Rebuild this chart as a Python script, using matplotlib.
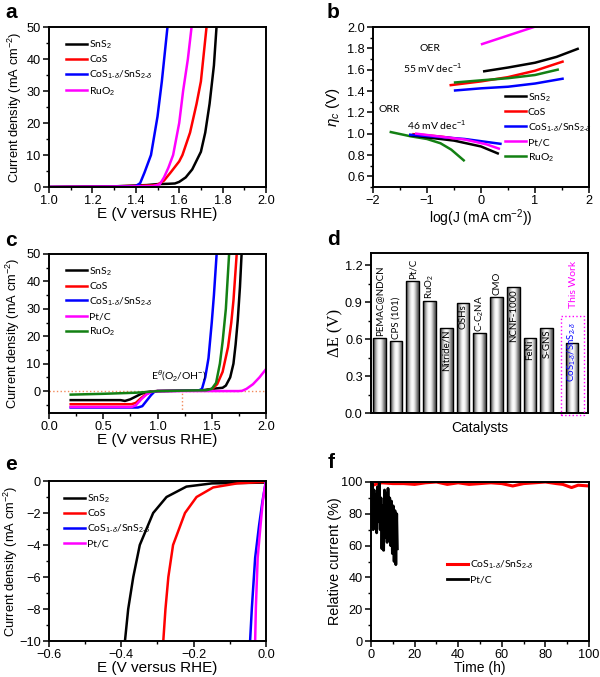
'''
    Figura de seis paneles: curvas LSV (OER/ORR/HER), Tafel, comparación de
    ΔE y estabilidad
'''
import numpy as np
import matplotlib
matplotlib.use('Agg')
import matplotlib.pyplot as plt
from matplotlib.ticker import MultipleLocator

plt.rcParams['font.family'] = ['Liberation Sans', 'DejaVu Sans']
plt.rcParams['mathtext.fontset'] = 'custom'
plt.rcParams['mathtext.rm'] = 'Liberation Sans'
plt.rcParams['mathtext.it'] = 'Liberation Sans:italic'
plt.rcParams['mathtext.bf'] = 'Liberation Sans:bold'

# Colores de cada catalizador
NEGRO = 'black'
ROJO = '#ff0000'
AZUL = '#0000ff'
MAGENTA = '#ff00ff'
VERDE = '#138013'

# Etiquetas de la leyenda
lbl_sns2 = 'SnS$_2$'
lbl_cos = 'CoS'
lbl_hib = 'CoS$_{1\u2010δ}$/SnS$_{2\u2010δ}$'
lbl_ruo2 = 'RuO$_2$'
lbl_ptc = 'Pt/C'

# ---- Panel a: OER (E en V, j en mA cm-2)
a_sns2_x = [1.0, 1.30, 1.45, 1.50, 1.55, 1.58, 1.60, 1.63, 1.66, 1.70, 1.72, 1.74, 1.76, 1.772]
a_sns2_y = [0.0, 0.2, 0.6, 0.9, 1.0, 1.1, 1.6, 3.0, 5.5, 11.0, 17.0, 26.0, 38.0, 50.0]
a_cos_x = [1.0, 1.30, 1.48, 1.50, 1.53, 1.56, 1.60, 1.615, 1.65, 1.68, 1.70, 1.726]
a_cos_y = [0.0, 0.2, 0.5, 0.7, 2.0, 4.5, 8.0, 10.0, 17.0, 26.0, 33.0, 50.0]
a_hib_x = [1.0, 1.30, 1.40, 1.42, 1.44, 1.47, 1.50, 1.52, 1.546]
a_hib_y = [0.0, 0.1, 0.3, 1.2, 4.5, 10.0, 22.0, 33.0, 50.0]
a_ruo2_x = [1.0, 1.30, 1.48, 1.51, 1.53, 1.55, 1.572, 1.60, 1.618, 1.64, 1.657]
a_ruo2_y = [0.0, 0.1, 0.3, 0.8, 3.0, 6.0, 10.0, 20.0, 30.0, 40.0, 50.0]

# ---- Panel b: Tafel (log J, eta)
b_oer_sns2_x = [0.06, 0.5, 1.0, 1.4, 1.79]
b_oer_sns2_y = [1.585, 1.62, 1.665, 1.72, 1.795]
b_oer_cos_x = [-0.56, 0.0, 0.5, 1.0, 1.51]
b_oer_cos_y = [1.455, 1.49, 1.53, 1.59, 1.675]
b_oer_hib_x = [-0.48, 0.0, 0.5, 1.0, 1.51]
b_oer_hib_y = [1.405, 1.425, 1.44, 1.47, 1.515]
b_oer_ptc_x = [0.02, 0.5, 0.98, 1.1]
b_oer_ptc_y = [1.84, 1.92, 2.0, 2.03]
b_oer_ruo2_x = [-0.48, 0.0, 0.5, 1.0, 1.42]
b_oer_ruo2_y = [1.48, 1.50, 1.52, 1.55, 1.60]
b_orr_sns2_x = [-1.31, -1.0, -0.5, 0.0, 0.31]
b_orr_sns2_y = [0.985, 0.965, 0.935, 0.88, 0.815]
b_orr_cos_x = [-1.25, -1.0, -0.7, -0.5]
b_orr_cos_y = [0.995, 0.985, 0.97, 0.955]
b_orr_hib_x = [-1.31, -0.8, -0.3, 0.36]
b_orr_hib_y = [0.99, 0.97, 0.95, 0.905]
b_orr_ptc_x = [-1.2, -0.8, -0.3, 0.1, 0.33]
b_orr_ptc_y = [1.0, 0.975, 0.945, 0.9, 0.86]
b_orr_ruo2_x = [-1.67, -1.3, -1.0, -0.75, -0.55, -0.32]
b_orr_ruo2_y = [1.015, 0.975, 0.95, 0.91, 0.85, 0.75]

# ---- Panel c: ORR + OER en todo el rango
c_sns2_x = [0.2, 0.66, 0.70, 0.75, 0.80, 0.85, 0.90, 0.95, 1.0, 1.4, 1.5, 1.55, 1.60, 1.63, 1.67, 1.70, 1.72, 1.74, 1.76, 1.775]
c_sns2_y = [-3.3, -3.3, -3.6, -3.0, -2.0, -1.0, -0.4, -0.1, 0.0, 0.2, 0.8, 1.0, 1.2, 2.0, 5.0, 10.0, 17.0, 26.0, 38.0, 50.0]
c_cos_x = [0.2, 0.76, 0.80, 0.85, 0.90, 0.95, 1.0, 1.45, 1.50, 1.55, 1.60, 1.65, 1.68, 1.70, 1.73]
c_cos_y = [-4.8, -4.8, -4.3, -2.5, -1.0, -0.2, 0.0, 0.3, 0.6, 2.5, 7.0, 16.0, 25.0, 33.0, 50.0]
c_hib_x = [0.2, 0.82, 0.86, 0.90, 0.94, 0.97, 1.0, 1.38, 1.41, 1.44, 1.47, 1.50, 1.52, 1.545]
c_hib_y = [-6.0, -6.0, -5.5, -3.5, -1.5, -0.3, 0.0, 0.2, 0.8, 5.0, 12.0, 25.0, 35.0, 50.0]
c_ptc_x = [0.2, 0.76, 0.80, 0.85, 0.90, 0.95, 1.0, 1.75, 1.78, 1.82, 1.88, 1.94, 2.0]
c_ptc_y = [-5.8, -5.8, -5.2, -3.0, -1.2, -0.2, 0.0, 0.0, 0.1, 0.8, 2.5, 5.0, 8.0]
c_ruo2_x = [0.2, 0.5, 0.8, 0.95, 1.0, 1.45, 1.50, 1.54, 1.575, 1.60, 1.63, 1.66]
c_ruo2_y = [-1.3, -1.0, -0.6, -0.2, 0.0, 0.3, 0.8, 3.0, 10.0, 18.0, 30.0, 50.0]
c_e_teorico = 1.23

# ---- Panel d: ΔE de catalizadores
d_catalizadores = ['PEMAC@NDCN', 'CPS (101)', 'Pt/C', 'RuO$_2$', 'Nitride/N', 'OSHs',
                   'C-C$_2$NA', 'CMO', 'NCNF-1000', 'FeNi', 'S-GNS']
d_delta_e = [0.611, 0.589, 1.07, 0.912, 0.692, 0.89, 0.652, 0.942, 1.021, 0.611, 0.692]
d_este_trabajo = 0.565

# ---- Panel e: HER
e_sns2_x = [-0.39, -0.381, -0.367, -0.349, -0.312, -0.275, -0.22, -0.15, 0.0]
e_sns2_y = [-10.0, -8.0, -6.0, -4.0, -2.0, -1.0, -0.35, -0.15, -0.1]
e_cos_x = [-0.284, -0.278, -0.27, -0.257, -0.224, -0.192, -0.146, -0.08, 0.0]
e_cos_y = [-10.0, -8.0, -6.0, -4.0, -2.0, -1.0, -0.4, -0.15, -0.05]
e_hib_x = [-0.044, -0.039, -0.030, -0.019, -0.010, -0.004, 0.0]
e_hib_y = [-10.0, -7.9, -4.8, -2.75, -1.3, -0.5, 0.0]
e_ptc_x = [-0.030, -0.028, -0.023, -0.015, -0.009, -0.004, 0.0]
e_ptc_y = [-10.0, -7.9, -4.8, -2.75, -1.3, -0.5, 0.0]

# ---- Panel f: estabilidad (tiempo en h, corriente relativa en %)
f_hib_t = [0, 1, 3, 5, 10, 15, 20, 25, 30, 35, 40, 45, 50, 55, 60, 65, 70, 75, 80, 85, 88, 92, 95, 100]
f_hib_i = [100, 98, 99, 99.5, 99, 99, 98.5, 99.5, 100, 98.5, 99.5, 98.5, 99, 99.5, 99, 97.5, 99, 99.5,
           100, 99, 98.5, 96.5, 98, 97.5]
f_ptc_t = [0, 0.3, 0.6, 1.0, 1.4, 1.8, 2.2, 2.6, 3.0, 3.4, 3.8, 4.2, 4.6, 5.0, 5.4, 5.8, 6.2, 6.6,
           7.0, 7.4, 7.8, 8.2, 8.6, 9.0, 9.4, 9.8, 10.2, 10.6, 11.0, 11.4, 11.8, 12.1]
f_ptc_i = [100, 72, 99, 70, 95, 80, 92, 68, 97, 75, 100, 70, 90, 58, 85, 57, 95, 65, 93, 62, 96,
           70, 90, 60, 88, 55, 85, 50, 82, 48, 80, 58]


def estilo_ejes(ax, mayor_x, menor_x, mayor_y, menor_y):
    '''
        Ticks hacia afuera, ticks menores y bordes gruesos
    '''
    ax.xaxis.set_major_locator(MultipleLocator(mayor_x))
    ax.xaxis.set_minor_locator(MultipleLocator(menor_x))
    ax.yaxis.set_major_locator(MultipleLocator(mayor_y))
    ax.yaxis.set_minor_locator(MultipleLocator(menor_y))
    ax.tick_params(which='major', direction='out', length=4, width=1.1, labelsize=9.2, pad=2)
    ax.tick_params(which='minor', direction='out', length=2, width=1.0)
    for s in ax.spines.values():
        s.set_linewidth(1.4)


def leyenda(ax, x, y, espacio=0.38):
    '''
        Leyenda sin marco en posición dada (fracción de ejes)
    '''
    ax.legend(loc='upper left', bbox_to_anchor=(x, y), frameon=False,
              prop={'family': ['Lato', 'DejaVu Sans'], 'size': 7.5},
              handlelength=2.0, handletextpad=0.2, labelspacing=espacio,
              borderaxespad=0, borderpad=0)


fig = plt.figure(figsize=(6.0, 6.77), dpi=100)
W, H = 600.0, 677.0


def crear_ejes(izq, arriba, ancho, alto):
    return fig.add_axes([izq / W, 1 - (arriba + alto) / H, ancho / W, alto / H])


ax_a = crear_ejes(49, 27, 217, 160)
ax_b = crear_ejes(373, 27, 216, 160)
ax_c = crear_ejes(49, 254, 217, 159)
ax_d = crear_ejes(371, 253, 217, 160)
ax_e = crear_ejes(49, 481, 217, 160)
ax_f = crear_ejes(371, 482, 218, 159)

lw = 1.8
etiqueta_x = 'E (V versus RHE)'
etiqueta_y = 'Current density (mA cm$^{-2}$)'
tam_x = 11.0
tam_y = 9.3

# Panel a
ax_a.plot(a_sns2_x, a_sns2_y, color=NEGRO, lw=lw, label=lbl_sns2)
ax_a.plot(a_cos_x, a_cos_y, color=ROJO, lw=lw, label=lbl_cos)
ax_a.plot(a_hib_x, a_hib_y, color=AZUL, lw=lw, label=lbl_hib)
ax_a.plot(a_ruo2_x, a_ruo2_y, color=MAGENTA, lw=lw, label=lbl_ruo2)
ax_a.set_xlim(1.0, 2.0)
ax_a.set_ylim(0, 50)
estilo_ejes(ax_a, 0.2, 0.1, 10, 5)
ax_a.set_xlabel(etiqueta_x, fontsize=tam_x, labelpad=0)
ax_a.set_ylabel(etiqueta_y, fontsize=tam_y)
ax_a.yaxis.set_label_coords(-0.115, 0.5)
leyenda(ax_a, 0.08, 0.93)

# Panel b
ax_b.plot(b_oer_ptc_x, b_oer_ptc_y, color=MAGENTA, lw=lw)
ax_b.plot(b_oer_sns2_x, b_oer_sns2_y, color=NEGRO, lw=lw)
ax_b.plot(b_oer_cos_x, b_oer_cos_y, color=ROJO, lw=lw)
ax_b.plot(b_oer_ruo2_x, b_oer_ruo2_y, color=VERDE, lw=lw)
ax_b.plot(b_oer_hib_x, b_oer_hib_y, color=AZUL, lw=lw)
ax_b.plot(b_orr_ruo2_x, b_orr_ruo2_y, color=VERDE, lw=lw)
ax_b.plot(b_orr_sns2_x, b_orr_sns2_y, color=NEGRO, lw=lw, label=lbl_sns2)
ax_b.plot(b_orr_cos_x, b_orr_cos_y, color=ROJO, lw=lw, label=lbl_cos)
ax_b.plot(b_orr_hib_x, b_orr_hib_y, color=AZUL, lw=lw, label=lbl_hib)
ax_b.plot(b_orr_ptc_x, b_orr_ptc_y, color=MAGENTA, lw=lw, label=lbl_ptc)
ax_b.plot([], [], color=VERDE, lw=lw, label=lbl_ruo2)
ax_b.set_xlim(-2, 2)
ax_b.set_ylim(0.5, 2.0)
estilo_ejes(ax_b, 1, 0.5, 0.2, 0.1)
ax_b.set_xlabel('log(J (mA cm$^{-2}$))', fontsize=10, labelpad=0)
ax_b.set_ylabel(r'$\eta_c$ (V)', fontsize=11)
ax_b.yaxis.set_label_coords(-0.144, 0.5)
fuente_txt = {'family': ['Lato', 'DejaVu Sans'], 'size': 7.5}
ax_b.text(-0.94, 1.80, 'OER', fontdict=fuente_txt, ha='center', va='center')
ax_b.text(-0.90, 1.616, '55 mV dec$^{-1}$', fontdict=fuente_txt, ha='center', va='center')
ax_b.text(-1.70, 1.225, 'ORR', fontdict=fuente_txt, ha='center', va='center')
ax_b.text(-0.82, 1.08, '46 mV dec$^{-1}$', fontdict=fuente_txt, ha='center', va='center')
leyenda(ax_b, 0.61, 0.60)

# Panel c
ax_c.axhline(0, color='#f28a5c', lw=1.0, ls=':', zorder=1)
ax_c.plot([c_e_teorico, c_e_teorico], [-8, 0], color='#f28a5c', lw=1.0, ls=':', zorder=1)
ax_c.plot(c_sns2_x, c_sns2_y, color=NEGRO, lw=lw, label=lbl_sns2)
ax_c.plot(c_cos_x, c_cos_y, color=ROJO, lw=lw, label=lbl_cos)
ax_c.plot(c_hib_x, c_hib_y, color=AZUL, lw=lw, label=lbl_hib)
ax_c.plot(c_ptc_x, c_ptc_y, color=MAGENTA, lw=lw, label=lbl_ptc)
ax_c.plot(c_ruo2_x, c_ruo2_y, color=VERDE, lw=lw, label=lbl_ruo2)
ax_c.text(1.2, 5.5, r'E$^{\theta}$(O$_2$/OH$^{-}$)', fontdict=fuente_txt, ha='center', va='center')
ax_c.set_xlim(0, 2.0)
ax_c.set_ylim(-8, 50)
estilo_ejes(ax_c, 0.5, 0.25, 10, 5)
ax_c.set_xlabel(etiqueta_x, fontsize=tam_x, labelpad=0)
ax_c.set_ylabel(etiqueta_y, fontsize=tam_y)
ax_c.yaxis.set_label_coords(-0.124, 0.5)
leyenda(ax_c, 0.08, 0.93)

# Panel d: barras con sombreado cilíndrico
pos_d = list(range(1, len(d_catalizadores) + 1)) + [12.5]
val_d = d_delta_e + [d_este_trabajo]
barras = ax_d.bar(pos_d, val_d, width=0.76, facecolor='none', edgecolor='black', lw=1.0, zorder=3)
gradiente = np.array([[0.30, 0.55, 0.78, 0.95, 1.0, 0.95, 0.78, 0.55, 0.35]])
for b in barras:
    im = ax_d.imshow(gradiente, cmap='gray', vmin=0, vmax=1, aspect='auto', zorder=2,
                     extent=[b.get_x(), b.get_x() + b.get_width(), 0, b.get_height()],
                     interpolation='bicubic')
    im.set_clip_path(b)
ax_d.set_xlim(0.5, 13.46)
ax_d.set_ylim(0, 1.3)
estilo_ejes(ax_d, 1, 1, 0.3, 0.15)
ax_d.set_xticks([])
ax_d.xaxis.set_minor_locator(MultipleLocator(100))
ax_d.set_xlabel('Catalysts', fontsize=10, labelpad=6)
ax_d.set_ylabel(r'ΔE (V)', fontsize=12, family='Liberation Serif')
ax_d.yaxis.set_label_coords(-0.125, 0.5)
fuente_bar = {'family': ['Lato', 'DejaVu Sans'], 'size': 7}
# (va, y) de cada etiqueta: encima de la barra o dentro de ella
ubic_d = [('bottom', 0.625), ('bottom', 0.603), ('bottom', 1.085), ('bottom', 0.925),
          ('top', 0.68), ('top', 0.88), ('bottom', 0.66), ('bottom', 0.955),
          ('top', 1.005), ('top', 0.60), ('top', 0.68)]
for i in range(len(d_catalizadores)):
    ax_d.text(pos_d[i], ubic_d[i][1], d_catalizadores[i], rotation=90, ha='center',
              va=ubic_d[i][0], fontdict=fuente_bar, zorder=4)
ax_d.text(12.5, 0.74, lbl_hib, rotation=90, ha='center', va='top', color=AZUL,
          fontdict=fuente_bar, zorder=4)
ax_d.text(12.6, 0.85, 'This Work', rotation=90, ha='center', va='bottom', color=MAGENTA,
          fontdict={'family': ['Lato', 'DejaVu Sans'], 'size': 7.5})
caja = plt.Rectangle((11.85, -0.02), 1.35, 0.81, fill=False, ec=MAGENTA, ls=':', lw=1.0,
                     clip_on=False, zorder=5)
ax_d.add_patch(caja)

# Panel e
ax_e.plot(e_sns2_x, e_sns2_y, color=NEGRO, lw=lw, label=lbl_sns2)
ax_e.plot(e_cos_x, e_cos_y, color=ROJO, lw=lw, label=lbl_cos)
ax_e.plot(e_hib_x, e_hib_y, color=AZUL, lw=lw, label=lbl_hib)
ax_e.plot(e_ptc_x, e_ptc_y, color=MAGENTA, lw=lw, label=lbl_ptc)
ax_e.set_xlim(-0.6, 0.0)
ax_e.set_ylim(-10, 0)
estilo_ejes(ax_e, 0.2, 0.1, 2, 1)
ax_e.set_xlabel(etiqueta_x, fontsize=tam_x, labelpad=0)
ax_e.set_ylabel(etiqueta_y, fontsize=tam_y)
ax_e.yaxis.set_label_coords(-0.134, 0.5)
leyenda(ax_e, 0.07, 0.93)

# Panel f
ax_f.plot(f_hib_t, f_hib_i, color=ROJO, lw=2.2, label=lbl_hib)
ax_f.plot(f_ptc_t, f_ptc_i, color=NEGRO, lw=2.0, label=lbl_ptc)
ax_f.set_xlim(0, 100)
ax_f.set_ylim(0, 100)
estilo_ejes(ax_f, 20, 10, 20, 10)
ax_f.set_xlabel('Time (h)', fontsize=10, labelpad=0)
ax_f.set_ylabel('Relative current (%)', fontsize=10.4)
ax_f.yaxis.set_label_coords(-0.133, 0.5)
leyenda(ax_f, 0.35, 0.52)

# Letras de cada panel
for letra, (px, py) in zip('abcdef', [(11, 12), (333, 12), (11, 241), (333, 240),
                                      (11, 465), (331, 463)]):
    fig.text(px / W, 1 - py / H, letra, fontsize=15, fontweight='bold', ha='center', va='center')

fig.savefig('out.png', dpi=100)
